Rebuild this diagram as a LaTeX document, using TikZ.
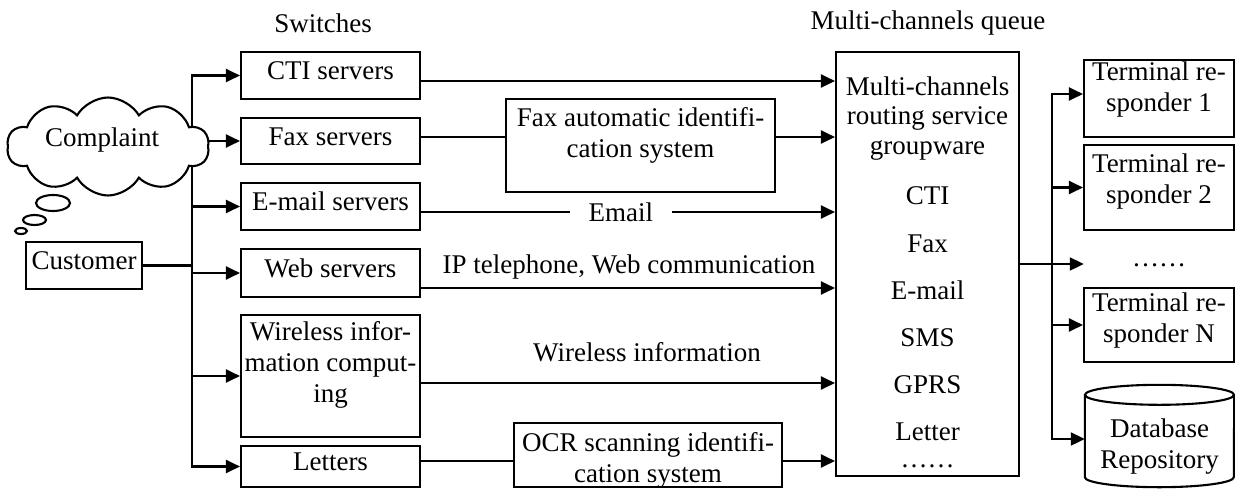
\documentclass[tikz,border=0pt]{standalone}
\usepackage{fontspec}
\setmainfont{Liberation Serif}
\usetikzlibrary{arrows.meta,shapes.symbols,shapes.geometric,calc}
\tikzset{
  txt/.style={font=\fontsize{27}{31}\selectfont, inner sep=0pt, align=center},
  frame/.style={draw, line width=2.1pt, inner sep=0pt},
  box/.style={frame, font=\fontsize{27}{31}\selectfont, text height=12pt, text depth=4pt},
  conn/.style={line width=2.1pt},
  arr/.style={conn, -{Triangle[length=14pt,width=13pt]}},
}
\begin{document}
\begin{tikzpicture}[x=1pt,y=-1pt]
\useasboundingbox (0,0) rectangle (1235,488);

% column titles
\node[txt] (swt) at (323,23) {Switches};
\node[txt] (qt) at (928,23) {Multi-channels queue};

% customer
\node[box, minimum width=116pt, minimum height=47pt] (cust) at (84,265.5) {Customer};

% switches
\node[box, minimum width=179pt, minimum height=47pt] (cti) at (330.5,75.5) {CTI servers};
\node[box, minimum width=179pt, minimum height=46pt] (fax) at (330.5,141) {Fax servers};
\node[box, minimum width=179pt, minimum height=47pt] (em) at (330.5,206.5) {E-mail servers};
\node[box, minimum width=179pt, minimum height=48pt] (web) at (330.5,273) {Web servers};
\node[frame, minimum width=179pt, minimum height=122pt] (wl) at (330.5,376) {};
\node[txt] (wlt) at (330.5,365) {Wireless infor-\\mation comput-\\ing};
\node[box, minimum width=179pt, minimum height=41pt] (let) at (330.5,466.5) {Letters};

% intermediate systems
\node[frame, minimum width=269pt, minimum height=93pt] (fa) at (640.5,145.5) {};
\node[txt] (fat) at (640.5,135) {Fax automatic identifi-\\cation system};
\node[frame, minimum width=268pt, minimum height=64pt] (ocr) at (648,455) {};
\node[txt] (ocrt) at (648,460) {OCR scanning identifi-\\cation system};

% multi-channel queue
\node[frame, minimum width=183pt, minimum height=424pt] (q) at (927.5,264) {};
\foreach \t/\yy [count=\i] in {Multi-channels/95, routing service/124, groupware/154,
  CTI/204, Fax/252, E-mail/299, SMS/346, GPRS/393, Letter/440, ……/467}
  \node[txt, anchor=base] (ql\i) at (927.5,\yy) {\t};

% terminal responders
\node[frame, minimum width=150pt, minimum height=77pt] (t1) at (1159,98.5) {};
\node[txt] (t1t) at (1159,90) {Terminal re-\\sponder 1};
\node[frame, minimum width=150pt, minimum height=85pt] (t2) at (1159,187.5) {};
\node[txt] (t2t) at (1159,182) {Terminal re-\\sponder 2};
\node[txt, anchor=base, minimum width=150pt] (dots) at (1159,266) {……};
\node[frame, minimum width=150pt, minimum height=74pt] (tn) at (1159,325) {};
\node[txt] (tnt) at (1159,321) {Terminal re-\\sponder N};

% database cylinder
\node[inner sep=0pt, minimum width=149pt, minimum height=102pt] (db) at (1159.5,436) {};
\draw[conn] ([yshift=-10pt]db.north west) -- ([yshift=10pt]db.south west)
  arc[start angle=180, end angle=360, x radius=74.5pt, y radius=10pt]
  -- ([yshift=-10pt]db.north east);
\draw[conn] ([yshift=-10pt]db.north) ellipse [x radius=74.5pt, y radius=10pt];
\node[txt] (dbt) at (1159.5,447) {Database\\Repository};

% customer trunk to the switches
\coordinate (tr) at (192,264);
\draw[conn] (cust.east) -- (cust.east -| tr);
\foreach \n in {cti,fax,em,web,wl,let}
  \draw[arr] (tr) |- (\n.west);

% switches to the queue
\path ([yshift=-5.5pt]cti.east) coordinate (ctio)
      ([yshift=4pt]fax.east) coordinate (faxo)
      ([yshift=-5.5pt]em.east) coordinate (emo)
      ([yshift=-15pt]web.east) coordinate (webo)
      ([yshift=-7pt]wl.east) coordinate (wlo)
      ([yshift=5.5pt]let.east) coordinate (leto);
\draw[arr] (ctio) -- (ctio -| q.west);
\draw[conn] (faxo) -- (faxo -| fa.west);
\draw[arr] (faxo -| fa.east) -- (faxo -| q.west);
\draw[arr] (emo) -- node[txt, pos=0.483, fill=white, inner xsep=19pt, inner ysep=2pt] (eml) {Email} (emo -| q.west);
\draw[arr] (webo) -- (webo -| q.west);
\node[txt] (ipl) at (629,267) {IP telephone, Web communication};
\draw[arr] (wlo) -- (wlo -| q.west);
\node[txt] (wll) at (647,352) {Wireless information};
\draw[conn] (leto) -- (leto -| ocr.west);
\draw[arr] (leto -| ocr.east) -- (leto -| q.west);

% queue to the responders
\coordinate (br) at (1052,264);
\draw[conn] (q.east |- br) -- (br);
\draw[arr] (br) -- (br -| dots.west);
\draw[arr] (br) |- ([yshift=4.5pt]t1.west);
\draw[arr] (br) |- (t2.west);
\draw[arr] (br) |- (tn.west);
\draw[arr] (br) |- ([yshift=-3pt]db.west);

% complaint thought cloud
\node[cloud, draw, line width=2.1pt, fill=white, cloud puffs=10, cloud puff arc=120,
      aspect=2.1, minimum width=202pt, minimum height=98pt, inner sep=0pt] (cl) at (108,146.5) {};
\node[txt] (clt) at (102,140) {Complaint};
\node[ellipse, draw, line width=2.1pt, minimum width=34pt, minimum height=16pt, inner sep=0pt] (b1) at (53,203) {};
\node[ellipse, draw, line width=2.1pt, minimum width=23pt, minimum height=10pt, inner sep=0pt] (b2) at (34.5,220) {};
\node[ellipse, draw, line width=2.1pt, minimum width=12pt, minimum height=6pt, inner sep=0pt] (b3) at (21,231) {};
\end{tikzpicture}
\end{document}
